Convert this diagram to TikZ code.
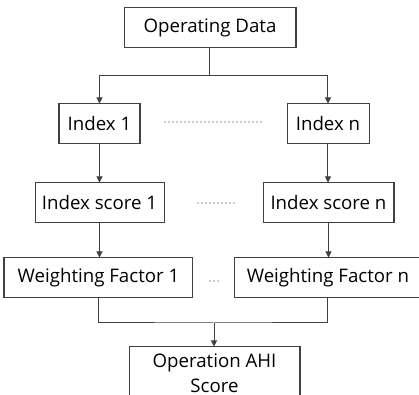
\documentclass[tikz,border=0pt]{standalone}
\usepackage{fontspec}
\setmainfont{Open Sans}
\usetikzlibrary{arrows.meta}

\tikzset{
    block/.style={draw=black!75, line width=0.75pt, fill=white, minimum height=30pt,
                  inner sep=2pt, font=\fontsize{14}{18.75}\selectfont, text=black},
    flow/.style={draw=black!75, line width=0.75pt, -{Triangle[length=4.5pt,width=4.5pt]}},
    link/.style={draw=black!75, line width=0.75pt},
    gap/.style={draw=black!85, line width=1.1pt, line cap=round, dash pattern=on 0pt off 3pt}
}

\begin{document}
\begin{tikzpicture}[x=0.75pt,y=-0.75pt]
    \useasboundingbox (0,0) rectangle (419,395);

    % Boxes
    \node[block, minimum width=129pt] (data) at (210,28) {Operating Data};
    \node[block, minimum width=60.75pt] (idx1) at (99.5,124) {Index 1};
    \node[block, minimum width=61.5pt] (idxn) at (328,124) {Index n};
    \node[block, minimum width=96.75pt] (sc1) at (99.5,203) {Index score 1};
    \node[block, minimum width=98.25pt] (scn) at (328.5,203) {Index score n};
    \node[block, minimum width=141.75pt] (wf1) at (98.5,278) {Weighting Factor 1};
    \node[block, minimum width=141pt] (wfn) at (328,278) {Weighting Factor n};
    \node[block, minimum width=128.25pt, minimum height=39pt, align=center] (ahi) at (214.5,373)
        {Operation AHI\\Score};

    % Split and merge points
    \coordinate (split) at (210,76);
    \coordinate (merge) at (214,323);

    % Connectors
    \draw[link] (data.south) -- (split);
    \draw[flow] (split) -| (idx1.north);
    \draw[flow] (split) -| (idxn.north);
    \draw[flow] (idx1.south) -- (idx1.south |- sc1.north);
    \draw[flow] (idxn.south) -- (idxn.south |- scn.north);
    \draw[flow] (sc1.south) -- (sc1.south |- wf1.north);
    \draw[flow] (scn.south) -- (scn.south |- wfn.north);
    \draw[link] (wf1.south) |- (merge) -| (wfn.south);
    \draw[flow] (merge) -- (merge |- ahi.north);

    % Dots between the columns
    \draw[gap] (165,122) -- (261,122);
    \draw[gap] (198,203) -- (234,203);
    \draw[gap] (210,281) -- (218,281);
\end{tikzpicture}
\end{document}
